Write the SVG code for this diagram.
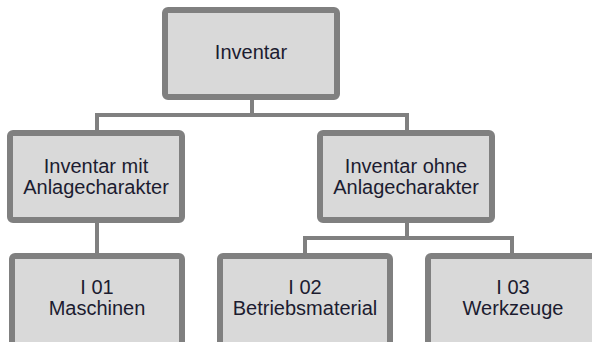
<svg xmlns="http://www.w3.org/2000/svg" width="592" height="342" viewBox="0 0 592 342">
<style>
.box{fill:#d9d9d9;stroke:#808080;stroke-width:6}
.lbl{font-family:"Liberation Sans",Arial,sans-serif;font-size:20px;fill:#1c1c30;text-anchor:middle}
.con{fill:none;stroke:#808080;stroke-width:4}
</style>
<rect width="592" height="342" fill="#ffffff"/>
<g id="connectors">
<path class="con" d="M252 100V115M97 130V115H407V131"/>
<path class="con" d="M97 222V253"/>
<path class="con" d="M407 223V238M305 253V238H512V253"/>
</g>
<g id="inventar">
<rect class="box" x="165" y="10" width="172" height="87" rx="3"/>
<text class="lbl" x="251" y="59">Inventar</text>
</g>
<g id="mit">
<rect class="box" x="10" y="133" width="172" height="87" rx="3"/>
<text class="lbl" x="96" y="173">Inventar mit</text>
<text class="lbl" x="96" y="194">Anlagecharakter</text>
</g>
<g id="ohne">
<rect class="box" x="320" y="133" width="172" height="87" rx="3"/>
<text class="lbl" x="406" y="173">Inventar ohne</text>
<text class="lbl" x="406" y="194">Anlagecharakter</text>
</g>
<g id="i01">
<rect class="box" x="12" y="256" width="170" height="100" rx="3"/>
<text class="lbl" x="97" y="294">I 01</text>
<text class="lbl" x="97" y="315">Maschinen</text>
</g>
<g id="i02">
<rect class="box" x="220" y="256" width="170" height="100" rx="3"/>
<text class="lbl" x="305" y="294">I 02</text>
<text class="lbl" x="305" y="315">Betriebsmaterial</text>
</g>
<g id="i03">
<rect class="box" x="428" y="256" width="170" height="100" rx="3"/>
<text class="lbl" x="513" y="294">I 03</text>
<text class="lbl" x="513" y="315">Werkzeuge</text>
</g>
</svg>
